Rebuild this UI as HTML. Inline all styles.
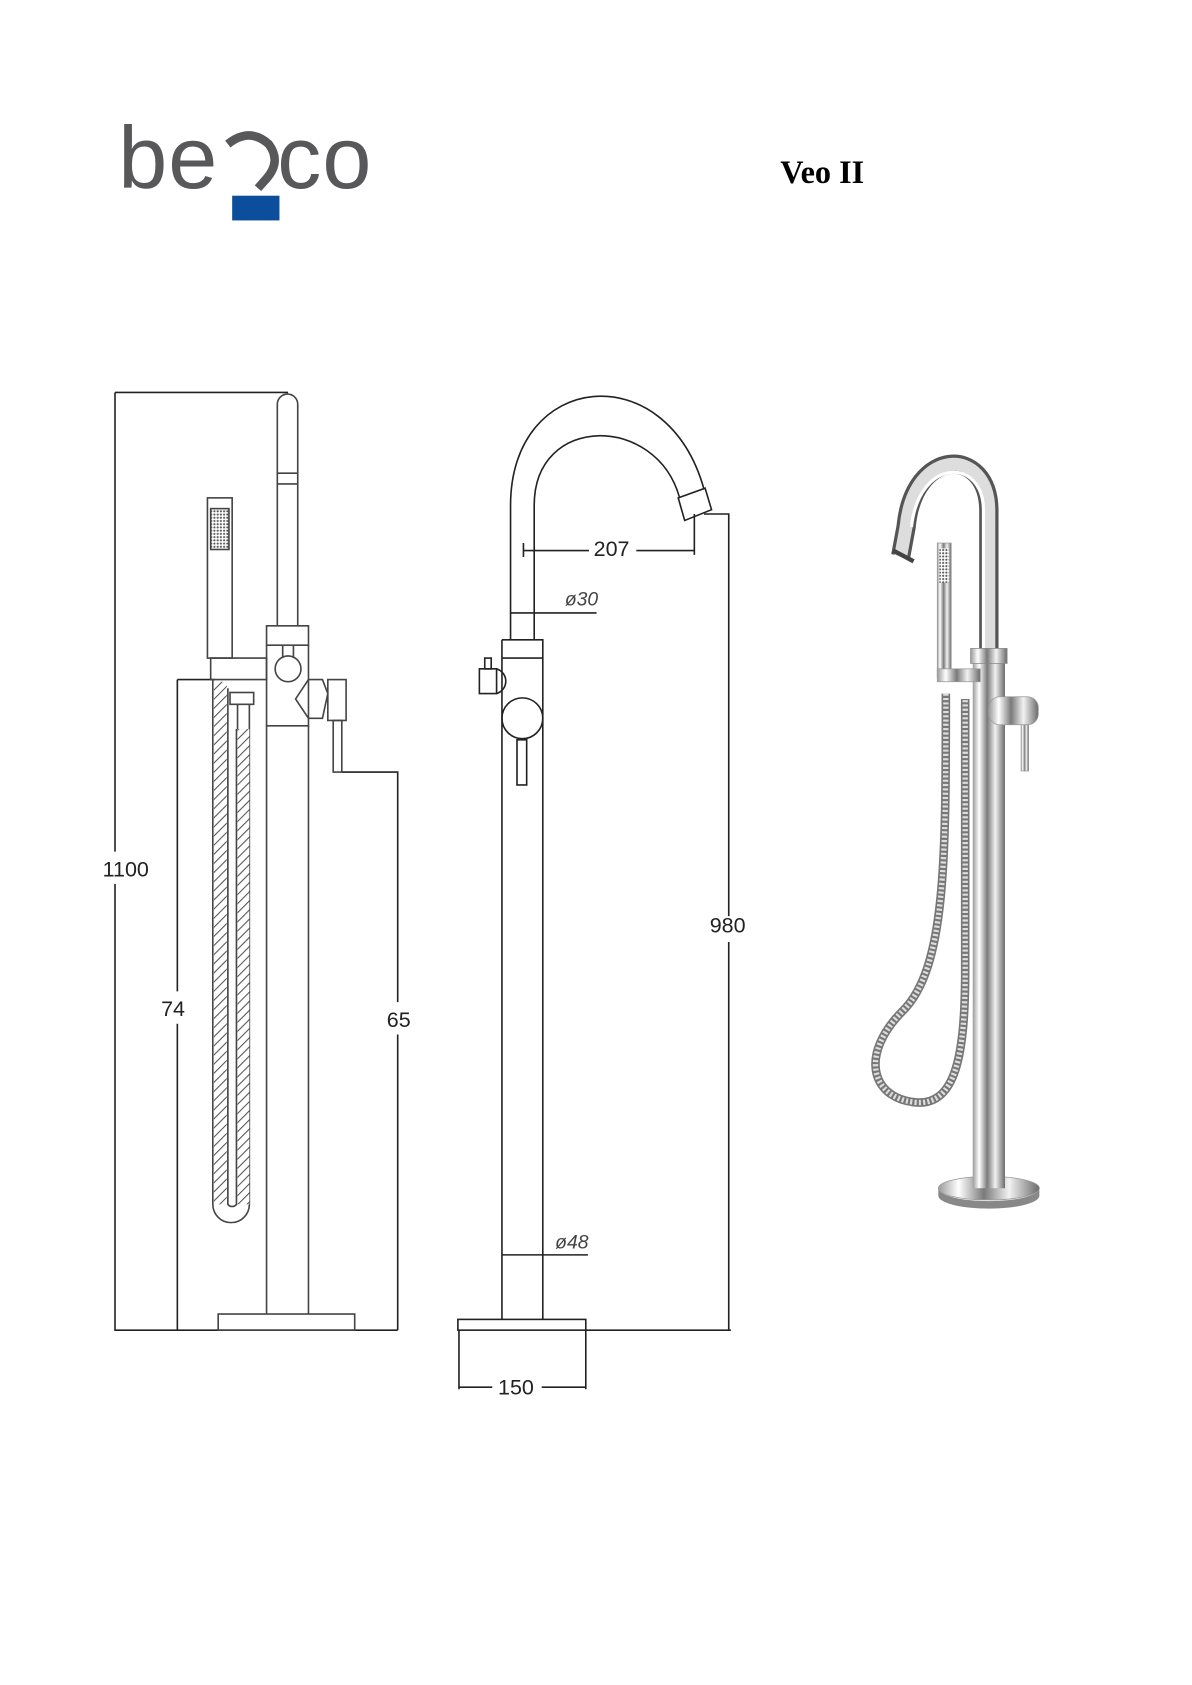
<!DOCTYPE html>
<html><head><meta charset="utf-8"><style>html,body{margin:0;padding:0;background:#fff}svg{display:block}</style></head>
<body>
<svg width="1192" height="1685" viewBox="0 0 1109 1567" preserveAspectRatio="none" xmlns="http://www.w3.org/2000/svg">
<defs>
<linearGradient id="ch" x1="0" x2="1" y1="0" y2="0">
<stop offset="0" stop-color="#9a9a9a"/><stop offset="0.2" stop-color="#ffffff"/><stop offset="0.45" stop-color="#7a7a7a"/><stop offset="0.7" stop-color="#f2f2f2"/><stop offset="1" stop-color="#6a6a6a"/>
</linearGradient>
<pattern id="hatch" width="6" height="6" patternUnits="userSpaceOnUse" patternTransform="rotate(45)"><rect width="6" height="6" fill="#fff"/><line x1="0" y1="0" x2="0" y2="6" stroke="#555" stroke-width="2"/></pattern>
<pattern id="dots" width="3" height="3" patternUnits="userSpaceOnUse"><rect width="3" height="3" fill="#fff"/><circle cx="1.5" cy="1.5" r="1" fill="#555"/></pattern>
</defs>

<!-- logo -->
<text x="110" y="175" font-family="Liberation Sans, DejaVu Sans, sans-serif" font-size="82" fill="#58585a" letter-spacing="1">be</text>
<path d="M212 134 Q232 118 250 134 Q262 150 248 166 L240 175" fill="none" stroke="#58585a" stroke-width="8"/>
<rect x="216" y="182" width="44" height="23" fill="#0b4f9c"/>
<text x="258" y="175" font-family="Liberation Sans, DejaVu Sans, sans-serif" font-size="82" fill="#58585a" letter-spacing="1">co</text>
<text x="765" y="170" text-anchor="middle" font-family="Liberation Serif, serif" font-weight="bold" font-size="30" fill="#000">Veo II</text>

<g fill="none" stroke="#222" stroke-width="1.5" font-family="Liberation Sans, sans-serif">
<path d="M107 365 H268 M107 365 V792 M107 822 V1237 H370"/>
<path d="M165 632 H200 M165 632 V922 M165 952 V1237"/>
<path d="M318 718 H370 V932 M370 962 V1237"/>
<g stroke="#444">
<path d="M258 582 V376 A9.5 9.5 0 0 1 277 376 V582"/>
<path d="M258 440 H277 M258 450 H277"/>
<rect x="248" y="582" width="39" height="18"/>
<path d="M248 600 V675 H287 V600"/>
<path d="M263 600 V612 M273 600 V612"/>
<circle cx="268" cy="622" r="12"/>
<path d="M287 632 L300 632 L305 645 L300 668 L287 668 L275 650 Z"/>
<rect x="305" y="632" width="17" height="38"/>
<rect x="310" y="670" width="8" height="48"/>
<path d="M248 675 V1222 M287 675 V1222"/>
<rect x="203" y="1222" width="127" height="15"/>
<rect x="193" y="463" width="23" height="149"/>
<rect x="196" y="473" width="17" height="38" fill="url(#dots)"/>
<path d="M196 612 H248 V632 H196 Z"/>
<rect x="214" y="644" width="22" height="11"/>
<path d="M198 632 V1120 A17 17 0 0 0 232 1120 V678 M212 640 V1120 A5 5 0 0 0 220 1120 V678"/>
<rect x="199" y="634" width="12" height="486" fill="url(#hatch)" stroke="none"/>
<rect x="221" y="678" width="11" height="442" fill="url(#hatch)" stroke="none"/>
<path d="M221 655 V678 M232 655 V678"/>
</g>
</g>
<g font-family="Liberation Sans, sans-serif" font-size="20" fill="#222" text-anchor="middle">
<text x="117" y="815">1100</text>
<text x="161" y="945">74</text>
<text x="371" y="955">65</text>
<text x="677" y="867">980</text>
<text x="569" y="517">207</text>
<text x="480" y="1297">150</text>
<text x="541" y="563" font-style="italic" font-size="18" fill="#444">ø30</text>
<text x="532" y="1161" font-style="italic" font-size="18" fill="#444">ø48</text>
</g>

<g fill="none" stroke="#222" stroke-width="1.5">
<path d="M475 595 V470 C475 345 620 330 655 455"/>
<path d="M497 595 V470 C497 385 610 385 632 462"/>
<path d="M631 463 L656 454 L662 474 L637 484 Z"/>
<path d="M467 595 H505 V1227 M467 595 V1227"/>
<path d="M467 612 H505"/>
<circle cx="486" cy="668" r="19"/>
<rect x="481" y="688" width="9" height="42"/>
<rect x="446" y="622" width="16" height="23"/>
<rect x="451" y="612" width="6" height="10"/>
<path d="M462 622 A12 12 0 0 1 462 645"/>
<rect x="426" y="1227" width="119" height="10"/>
<path d="M545 1237 H680 M655 478 H678 V852 M678 876 V1237"/>
<path d="M487 505 V518 M487 512 H548 M592 512 H646 M646 478 V516"/>
<path d="M475 570 H555"/>
<path d="M467 1167 H547"/>
<path d="M427 1237 V1292 M545 1237 V1292 M427 1290 H458 M504 1290 H545"/>
</g>

<!-- right photo -->
<g>
<path d="M873 1105 A47 12 0 0 0 967 1105 L967 1112 A47 12 0 0 1 873 1112 Z" fill="#888"/>
<ellipse cx="920" cy="1105" rx="47" ry="11" fill="url(#ch)" stroke="#999" stroke-width="0.7"/>
<rect x="905" y="605" width="30" height="500" fill="url(#ch)"/>
<path d="M920 608 V475 C920 415 850 415 843 490 L838 517" fill="none" stroke="#555" stroke-width="18"/>
<path d="M920 608 V475 C920 415 850 415 843 490 L838 517" fill="none" stroke="#ddd" stroke-width="12"/>
<path d="M915 608 V475 C915 425 855 425 848 490" fill="none" stroke="#fff" stroke-width="3"/>
<path d="M831 512 L850 522" stroke="#444" stroke-width="4"/>
<rect x="903" y="603" width="34" height="14" fill="url(#ch)" stroke="#888" stroke-width="0.7"/>
<rect x="872" y="505" width="13" height="125" fill="url(#ch)" stroke="#999" stroke-width="0.7"/>
<rect x="874" y="510" width="9" height="32" fill="url(#dots)"/>
<rect x="872" y="622" width="40" height="12" fill="url(#ch)" stroke="#999" stroke-width="0.7"/>
<path d="M880 645 C880 800 880 900 840 940 C800 980 810 1020 850 1025 C890 1030 898 980 898 900 L898 650" fill="none" stroke="#777" stroke-width="8"/>
<path d="M880 645 C880 800 880 900 840 940 C800 980 810 1020 850 1025 C890 1030 898 980 898 900 L898 650" fill="none" stroke="#ddd" stroke-width="5" stroke-dasharray="2 2"/>
<rect x="920" y="648" width="46" height="26" rx="10" fill="url(#ch)" stroke="#999" stroke-width="0.7"/>
<rect x="950" y="674" width="7" height="43" fill="url(#ch)" stroke="#999" stroke-width="0.7"/>
</g>
</svg>
</body></html>
